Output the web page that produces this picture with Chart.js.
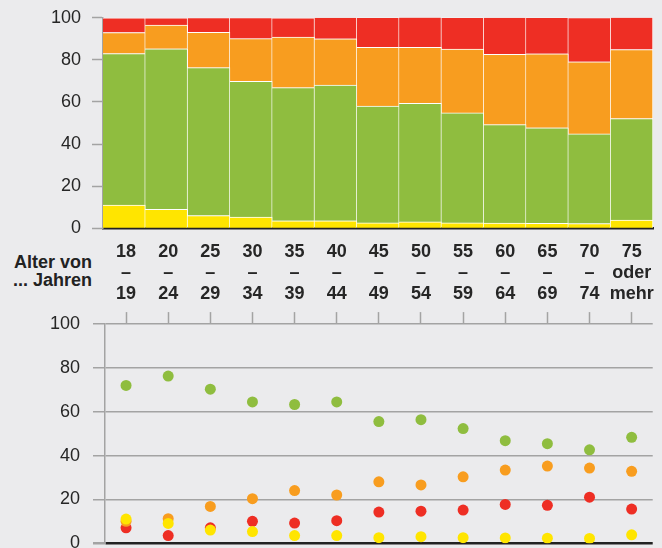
<!DOCTYPE html>
<html lang="de">
<head>
<meta charset="UTF-8">
<title>Alter von ... Jahren</title>
<script src="https://cdn.jsdelivr.net/npm/chart.js"></script>
<style>
    html, body {
        margin: 0;
        padding: 0;
        background: #ebebed;
        overflow: hidden;
        width: 662px;
        height: 548px;
    }
    .wrap {
        position: relative;
        width: 662px;
        height: 548px;
        overflow: hidden;
    }
    #topChart {
        position: absolute;
        left: 0;
        top: -4px;
    }
    #dotChart {
        position: absolute;
        left: 0;
        top: 234px;
    }
    .axisTitle {
        position: absolute;
        right: 570px;
        top: 253px;
        font: bold 18px "Liberation Sans", Arial, sans-serif;
        line-height: 18.4px;
        color: #222;
        text-align: right;
        white-space: nowrap;
    }
</style>
</head>
<body>
<div class="wrap">
    <canvas id="topChart" width="662" height="254"></canvas>
    <div class="axisTitle">Alter von<br>... Jahren</div>
    <canvas id="dotChart" width="662" height="333"></canvas>
</div>

<script>
// Altersgruppen
const ageGroups = [
    ['18', '–', '19'], ['20', '–', '24'], ['25', '–', '29'], ['30', '–', '34'],
    ['35', '–', '39'], ['40', '–', '44'], ['45', '–', '49'], ['50', '–', '54'],
    ['55', '–', '59'], ['60', '–', '64'], ['65', '–', '69'], ['70', '–', '74'],
    ['75', 'oder', 'mehr']
];

// Anteile in Prozent (von unten nach oben gestapelt)
const yellowValues = [11, 9, 6, 5.3, 3.5, 3.5, 2.5, 3, 2.5, 2.4, 2.3, 2.2, 3.8];
const greenValues  = [72, 76.3, 70.3, 64.5, 63.3, 64.5, 55.5, 56.4, 52.3, 46.8, 45.4, 42.6, 48.3];
const orangeValues = [10, 11.2, 16.8, 20.3, 24, 22, 28, 26.6, 30.3, 33.4, 35.2, 34.3, 32.8];
const redValues    = [7, 3.5, 7, 10, 9.2, 10.3, 14.2, 14.6, 15.1, 17.7, 17.3, 21, 15.6];

const yTicks = [0, 20, 40, 60, 80, 100];

const YELLOW = '#ffe500';
const GREEN = '#8fbd3f';
const ORANGE = '#f89d1f';
const RED = '#ee2e24';
const TEXT = '#262626';
const AXIS = '#a3a3a3';
const FONT = '"Liberation Sans", Arial, sans-serif';

Chart.defaults.font.family = FONT;
Chart.defaults.animation = false;

const yTickLabel = v => yTicks.includes(v) ? String(v) : '';

// oberes Diagramm: gestapelte Säulen
new Chart(document.getElementById('topChart'), {
    type: 'bar',
    data: {
        labels: ageGroups,
        datasets: [
            { data: yellowValues, backgroundColor: YELLOW },
            { data: greenValues, backgroundColor: GREEN },
            { data: orangeValues, backgroundColor: ORANGE },
            { data: redValues, backgroundColor: RED }
        ].map(d => Object.assign(d, {
            borderColor: '#ffffff',
            borderWidth: { top: 1, right: 1, left: 0, bottom: 0 },
            borderSkipped: false,
            barPercentage: 1,
            categoryPercentage: 1
        }))
    },
    options: {
        responsive: false,
        layout: { padding: { top: 0, right: 9, left: 0, bottom: 0 } },
        plugins: { legend: { display: false }, tooltip: { enabled: false } },
        scales: {
            x: {
                stacked: true,
                ticks: { display: false },
                grid: { display: false },
                border: { display: true, color: '#222', width: 2.5 }
            },
            y: {
                stacked: true,
                min: 0,
                max: 100,
                afterFit: s => { s.width = 103; },
                ticks: { stepSize: 10, padding: 11, color: TEXT, font: { size: 18 }, callback: yTickLabel },
                grid: { drawOnChartArea: false, tickLength: 11, tickColor: AXIS, tickWidth: 1.5 },
                border: { color: AXIS, width: 1.5 }
            }
        }
    }
});

// unteres Diagramm: Punkte
const dot = (data, color) => ({
    data: data,
    showLine: false,
    pointRadius: 5.5,
    pointBackgroundColor: color,
    pointBorderWidth: 0
});

new Chart(document.getElementById('dotChart'), {
    type: 'line',
    data: {
        labels: ageGroups,
        datasets: [
            dot(yellowValues, YELLOW),
            dot(orangeValues, ORANGE),
            dot(redValues, RED),
            dot(greenValues, GREEN)
        ]
    },
    options: {
        responsive: false,
        layout: { padding: { top: 0, right: 9, left: 0, bottom: 0 } },
        plugins: { legend: { display: false }, tooltip: { enabled: false } },
        scales: {
            x: {
                position: 'top',
                offset: true,
                ticks: {
                    autoSkip: false,
                    maxRotation: 0,
                    padding: 8,
                    color: TEXT,
                    font: { size: 18, weight: 'bold', lineHeight: 1.15 }
                },
                grid: { offset: false, drawOnChartArea: false, tickLength: 12, tickColor: AXIS, tickWidth: 1.5 },
                border: { display: false }
            },
            y: {
                min: 0,
                max: 100,
                afterFit: s => { s.width = 105; },
                ticks: { stepSize: 10, padding: 13, color: TEXT, font: { size: 18 }, callback: yTickLabel },
                grid: {
                    tickLength: 12,
                    tickColor: AXIS,
                    color: c => c.tick && c.tick.value === 0 ? '#222' : AXIS,
                    lineWidth: c => c.tick && c.tick.value === 0 ? 2.5 : 1.5
                },
                border: { color: AXIS, width: 1.5 }
            }
        }
    }
});
</script>
</body>
</html>
